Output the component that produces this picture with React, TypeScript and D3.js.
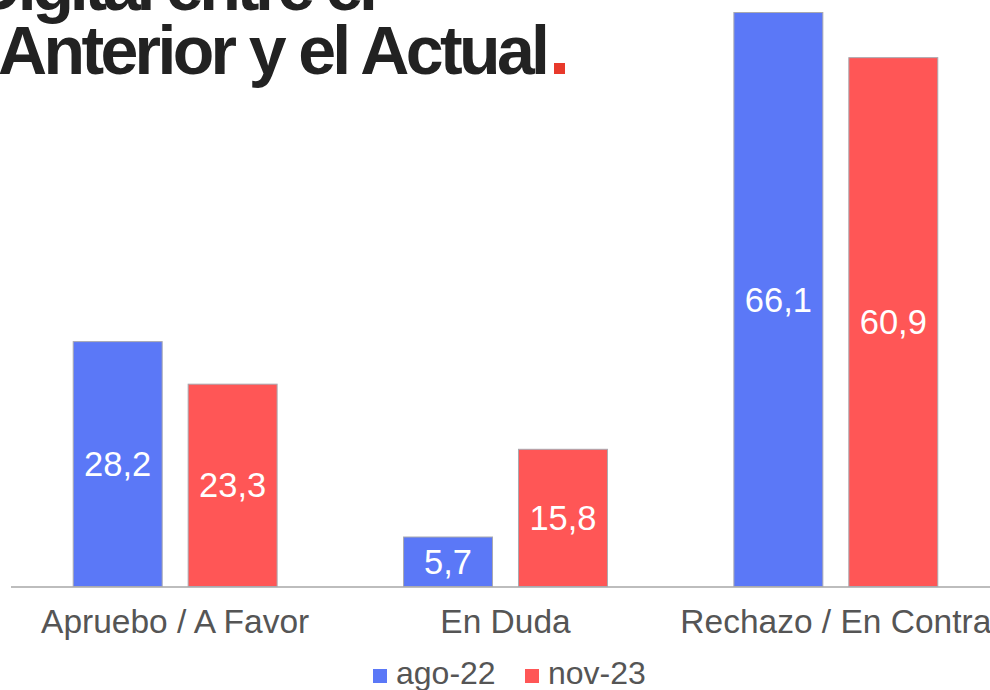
import React from "react";
import * as d3 from "d3";

const categories = ["Apruebo / A Favor", "En Duda", "Rechazo / En Contra"];
const seriesNames = ["ago-22", "nov-23"];
const ago22 = [28.2, 5.7, 66.1];
const nov23 = [23.3, 15.8, 60.9];
const seriesValues = [ago22, nov23];
const titleLine1 = "Digital entre el";
const titleLine2 = "Anterior y el Actual";

const W = 990;
const H = 690;
const colors = ["#5B78F7", "#FF5656"];
const FONT = "'Liberation Sans', Arial, Helvetica, sans-serif";

const locale = d3.formatLocale({ decimal: ",", thousands: ".", grouping: [3], currency: ["", ""] });
const fmt = locale.format(".1f");

export default function App() {
  const baseY = 586.5;
  const x0 = d3.scaleBand<string>().domain(categories).range([10, 1001]).paddingInner(0).paddingOuter(0);
  const x1 = d3
    .scaleBand<string>()
    .domain(seriesNames)
    .range([0, x0.bandwidth()])
    .paddingInner(0.226)
    .paddingOuter(0.55);
  const y = d3.scaleLinear().domain([0, 66.1]).range([baseY, 12.5]);

  return (
    <svg
      width={W}
      height={H}
      viewBox={`0 0 ${W} ${H}`}
      style={{ position: "absolute", left: 0, top: 0, background: "#fff", fontFamily: FONT }}
    >
      <rect x={0} y={0} width={W} height={H} fill="#fff" />
      {/* Title */}
      <text x={-27} y={10} fontSize={68} fontWeight={700} fill="#222" textLength={405} lengthAdjust="spacing">
        {titleLine1}
      </text>
      <text x={-2} y={74} fontSize={68} fontWeight={700} fill="#222" textLength={552} lengthAdjust="spacing">
        {titleLine2}
      </text>
      <rect x={554} y={63} width={11} height={11} fill="#E8392B" />

      {/* Baseline */}
      <line x1={11} x2={W} y1={baseY + 0.5} y2={baseY + 0.5} stroke="#bdbdbd" strokeWidth={2} />

      {/* Bars */}
      {categories.map((c, ci) => (
        <g key={c} transform={`translate(${x0(c)},0)`}>
          {seriesNames.map((s, si) => {
            const v = seriesValues[si][ci];
            const bx = x1(s) as number;
            const bw = x1.bandwidth();
            const top = y(v);
            return (
              <g key={s}>
                <rect
                  x={bx}
                  y={top}
                  width={bw}
                  height={baseY - top}
                  fill={colors[si]}
                  stroke="#a9a9b0"
                  strokeWidth={1}
                />
                <text
                  x={bx + bw / 2}
                  y={(top + baseY) / 2}
                  textAnchor="middle"
                  dominantBaseline="central"
                  fontSize={34.5}
                  fill="#fff"
                >
                  {fmt(v)}
                </text>
              </g>
            );
          })}
        </g>
      ))}

      {/* Category labels */}
      {categories.map((c) => (
        <text
          key={c}
          x={(x0(c) as number) + x0.bandwidth() / 2}
          y={633}
          textAnchor="middle"
          fontSize={33.5}
          fill="#555"
        >
          {c}
        </text>
      ))}

      {/* Legend */}
      {seriesNames.map((s, i) => {
        const lx = i === 0 ? 373 : 525;
        return (
          <g key={s}>
            <rect x={lx} y={669} width={14} height={14} fill={colors[i]} />
            <text x={lx + 23} y={684} fontSize={32} fill="#555">
              {s}
            </text>
          </g>
        );
      })}
    </svg>
  );
}
